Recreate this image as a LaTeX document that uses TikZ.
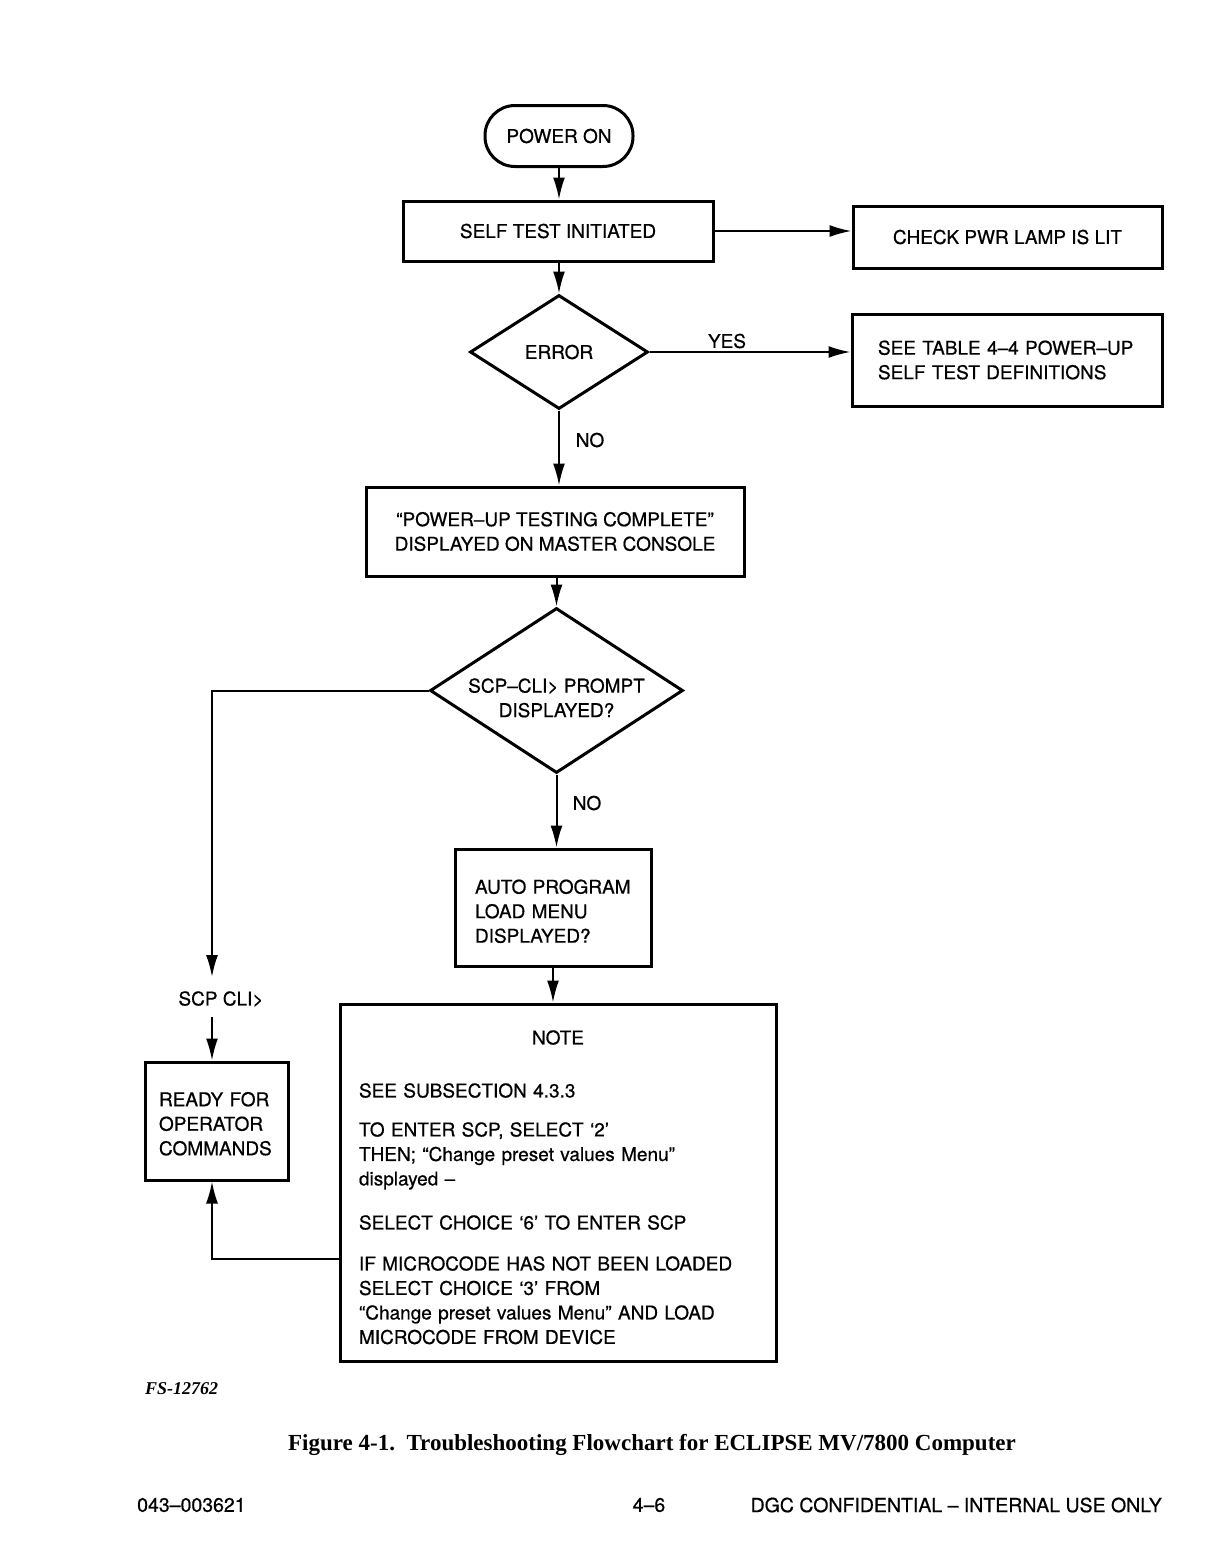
\documentclass[tikz,border=0pt]{standalone}
\usepackage{fontspec}
\setmainfont{TeX Gyre Heros}[FakeBold=0.6]
\newfontfamily\capfont{Liberation Serif}
\usetikzlibrary{shapes.geometric,arrows.meta,calc}
\begin{document}
\begin{tikzpicture}[x=1pt,y=-1pt,
  every node/.style={font=\fontsize{19}{24.5}\selectfont},
  box/.style={draw,line width=3pt,inner sep=0pt},
  dia/.style={draw,diamond,line width=3pt,inner sep=0pt},
  conn/.style={line width=2pt,-{Latex[length=22pt,width=12pt]}},
  lbl/.style={inner sep=0pt}]
\useasboundingbox (0,0) rectangle (1210,1567);
\fill[white] (0,0) rectangle (1210,1567);

\node[box,rounded corners=30pt,minimum width=148pt,minimum height=61pt] (pwr) at (559,136) {POWER ON};
\node[box,minimum width=310pt,minimum height=60pt] (self) at (558,231) {SELF TEST INITIATED};
\node[box,minimum width=309pt,minimum height=62pt] (check) at (1007.5,237) {CHECK PWR LAMP IS LIT};
\node[dia,aspect=1.56,minimum width=178pt,minimum height=114pt] (err) at (559,352) {ERROR};
\node[box,minimum width=310pt,minimum height=92pt,text width=258pt,inner xsep=26pt,align=left] (table) at (1007,360) {SEE TABLE 4–4 POWER–UP\\SELF TEST DEFINITIONS};
\node[box,minimum width=378pt,minimum height=89pt,align=center] (ptc) at (555,531.5) {“POWER–UP TESTING COMPLETE”\\DISPLAYED ON MASTER CONSOLE};
\node[dia,aspect=1.53,inner sep=-8pt,minimum width=253pt,minimum height=165pt,align=center] (scp) at (556.5,690.5) {\rule{0pt}{29pt}SCP–CLI> PROMPT\\DISPLAYED?};
\node[box,minimum width=196pt,minimum height=117pt,text width=156pt,inner xsep=20pt,align=left] (auto) at (553,907.5) {\rule{0pt}{21.7pt}AUTO PROGRAM\\LOAD MENU\\DISPLAYED?};
\node[box,minimum width=436pt,minimum height=357pt,text width=398pt,inner xsep=19pt,align=left] (note) at (558,1182.5) {\rule{0pt}{23.7pt}\makebox[398pt]{NOTE}\\[28.5pt]
SEE SUBSECTION 4.3.3\\[14.5pt]
TO ENTER SCP, SELECT ‘2’\\
THEN; “Change preset values Menu”\\
displayed –\\[19.5pt]
SELECT CHOICE ‘6’ TO ENTER SCP\\[16.5pt]
IF MICROCODE HAS NOT BEEN LOADED\\
SELECT CHOICE ‘3’ FROM\\
“Change preset values Menu” AND LOAD\\
MICROCODE FROM DEVICE};
\node[box,minimum width=143pt,minimum height=118pt,text width=115pt,inner xsep=14pt,align=left] (ready) at (216.5,1121) {\rule{0pt}{19.7pt}READY FOR\\OPERATOR\\COMMANDS};
\node[lbl] (cli) at (221,999) {SCP CLI>};
\node[lbl] (yes) at (727,341) {YES};
\node[lbl] (no1) at (590,440) {NO};
\node[lbl] (no2) at (587,803) {NO};

\draw[conn] (pwr.south) -- (pwr.south |- self.north);
\draw[conn] (self.east) -- (self.east -| check.west);
\draw[conn] (err.north |- self.south) -- (err.north);
\draw[conn] (err.east) -- (err.east -| table.west);
\draw[conn] (err.south) -- (err.south |- ptc.north);
\draw[conn] (scp.north |- ptc.south) -- (scp.north);
\draw[conn] (scp.south) -- (scp.south |- auto.north);
\draw[conn] (auto.south) -- (auto.south |- note.north);
\draw[conn,shorten >=14pt] (scp.west) -| ([xshift=-9pt]cli.north);
\draw[conn,shorten <=10pt] ([xshift=-9pt]cli.south) -- ([xshift=-9pt]cli.south |- ready.north);
\draw[conn] ($(note.west)+(0,76.5)$) -| ([xshift=-4.5pt]ready.south);

\node[lbl,anchor=west,font=\capfont\bfseries\itshape\fontsize{18}{21}\selectfont] (fs) at (145,1389) {FS-12762};
\node[lbl,font=\capfont\bfseries\fontsize{23}{27}\selectfont] (cap) at (652,1445) {Figure 4-1.\ \ Troubleshooting Flowchart for ECLIPSE MV/7800 Computer};
\node[lbl,anchor=west,font=\fontsize{19.5}{24}\selectfont] (f1) at (137,1505) {043–003621};
\node[lbl,font=\fontsize{19.5}{24}\selectfont] (f2) at (649,1505) {4–6};
\node[lbl,anchor=east,font=\fontsize{19.5}{24}\selectfont] (f3) at (1162,1505) {DGC CONFIDENTIAL – INTERNAL USE ONLY};
\end{tikzpicture}
\end{document}
